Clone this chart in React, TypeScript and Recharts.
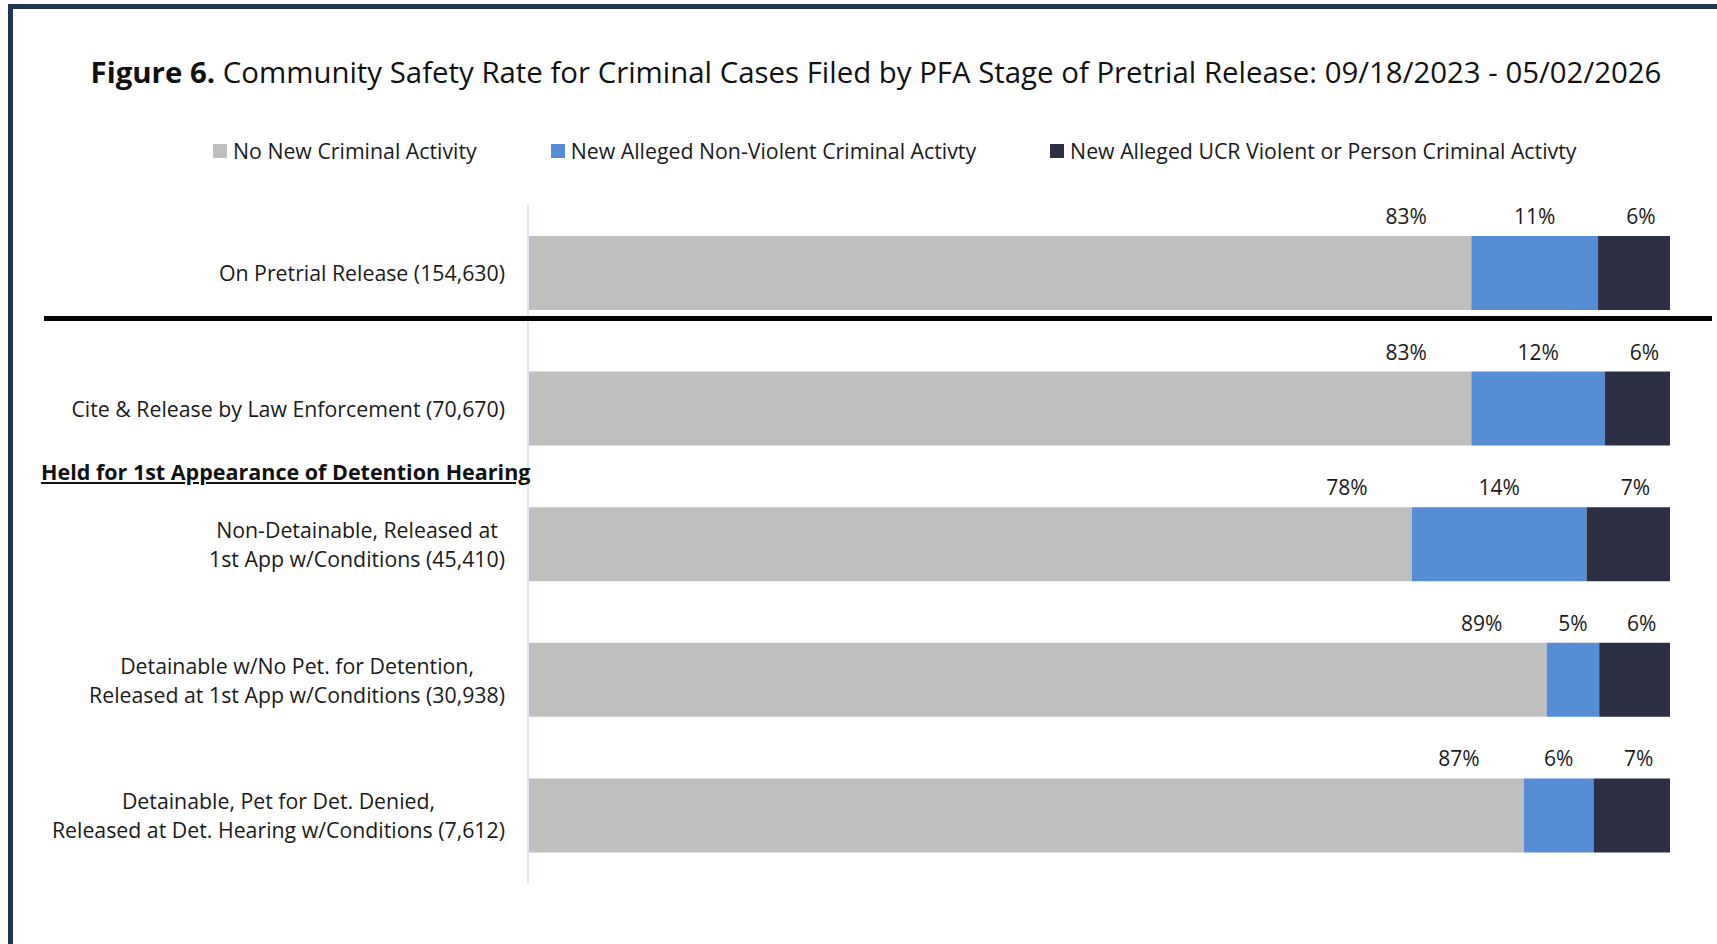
import React from 'react';
import { BarChart, Bar, XAxis, YAxis, LabelList } from 'recharts';

const categories = [
  'On Pretrial Release (154,630)',
  'Cite & Release by Law Enforcement (70,670)',
  'Non-Detainable, Released at\n1st App w/Conditions (45,410)',
  'Detainable w/No Pet. for Detention,\nReleased at 1st App w/Conditions (30,938)',
  'Detainable, Pet for Det. Denied,\nReleased at Det. Hearing w/Conditions (7,612)',
];

// bar lengths as drawn (share of the bar, %)
const noNewActivity = [82.6, 82.6, 77.4, 89.2, 87.2];
const nonViolent = [11.1, 11.7, 15.3, 4.6, 6.1];
const violent = [6.3, 5.7, 7.3, 6.2, 6.7];

// printed percentages
const noNewLabels = [83, 83, 78, 89, 87];
const nonViolentLabels = [11, 12, 14, 5, 6];
const violentLabels = [6, 6, 7, 6, 7];

const seriesNames = [
  'No New Criminal Activity',
  'New Alleged Non-Violent Criminal Activty',
  'New Alleged UCR Violent or Person Criminal Activty',
];
const colors = ['#bfbfbf', '#558ed5', '#2d2f45'];

const FONT = "'Open Sans', 'Noto Sans', sans-serif";
const TICK_SIZE = 21.3;

const chartData = categories.map((name, i) => ({
  name,
  none: noNewActivity[i],
  nonViolent: nonViolent[i],
  violent: violent[i],
  noneLabel: noNewLabels[i],
  nonViolentLabel: nonViolentLabels[i],
  violentLabel: violentLabels[i],
}));

let measureCtx: CanvasRenderingContext2D | null = null;
const measure = (text: string, font: string) => {
  if (!measureCtx) measureCtx = document.createElement('canvas').getContext('2d');
  if (!measureCtx) return text.length * 10;
  measureCtx.font = font;
  return measureCtx.measureText(text).width;
};

const CategoryTick = ({ x, y, payload }: any) => {
  const lines = String(payload.value).split('\n');
  const widest = Math.max(...lines.map((l) => measure(l, `${TICK_SIZE}px ${FONT}`)));
  const cx = x - widest / 2;
  const lineH = 29;
  const startY = y - ((lines.length - 1) * lineH) / 2;
  return (
    <g>
      {lines.map((l, i) => (
        <text key={i} x={cx} y={startY + i * lineH} textAnchor="middle" dominantBaseline="central"
          fontSize={TICK_SIZE} fontFamily={FONT} fill="#1a1a1a">
          {l}
        </text>
      ))}
    </g>
  );
};

const makeLabel = (align: 'end' | 'center', shift: number) => (props: any) => {
  const { x, y, width, value } = props;
  const lx = align === 'end' ? x + width - shift : x + width / 2 + shift;
  return (
    <text x={lx} y={y - 20} textAnchor="middle" dominantBaseline="central"
      fontSize={21} fontFamily={FONT} fill="#1a1a1a">
      {`${value}%`}
    </text>
  );
};

const App: React.FC = () => {
  return (
    <div style={{ position: 'absolute', left: 0, top: 0, width: 1717, height: 944, background: '#fff', overflow: 'hidden', fontFamily: FONT }}>
      {/* frame */}
      <div style={{ position: 'absolute', left: 8, top: 4, right: 0, height: 5, background: '#1f3552' }} />
      <div style={{ position: 'absolute', left: 8, top: 4, width: 5, bottom: 0, background: '#1f3552' }} />

      <div style={{ position: 'absolute', left: 0, top: 52, width: 1752, textAlign: 'center', fontSize: 29.4, color: '#111', whiteSpace: 'nowrap' }}>
        <b>Figure 6.</b> Community Safety Rate for Criminal Cases Filed by PFA Stage of Pretrial Release: 09/18/2023 - 05/02/2026
      </div>

      <div style={{ position: 'absolute', left: 213, top: 136, display: 'flex', gap: 74, fontSize: 21.3, color: '#1a1a1a', whiteSpace: 'nowrap' }}>
        {seriesNames.map((n, i) => (
          <div key={n} style={{ display: 'flex', alignItems: 'center', gap: 6 }}>
            <span style={{ width: 14, height: 14, background: colors[i], display: 'inline-block' }} />
            <span>{n}</span>
          </div>
        ))}
      </div>

      <div style={{ position: 'absolute', left: 0, top: 0 }}>
        <BarChart width={1717} height={944} data={chartData} layout="vertical" barSize={74}
          margin={{ top: 205, right: 47, bottom: 61, left: 0 }}>
          <XAxis type="number" domain={[0, 100]} hide />
          <YAxis type="category" dataKey="name" width={528} tickLine={false} tickSize={0} tickMargin={23}
            axisLine={{ stroke: '#dce8f6', strokeWidth: 2 }} tick={<CategoryTick />} interval={0} />
          <Bar dataKey="none" stackId="a" fill={colors[0]} isAnimationActive={false}>
            <LabelList dataKey="noneLabel" content={makeLabel('end', 65)} />
          </Bar>
          <Bar dataKey="nonViolent" stackId="a" fill={colors[1]} isAnimationActive={false}>
            <LabelList dataKey="nonViolentLabel" content={makeLabel('center', 0)} />
          </Bar>
          <Bar dataKey="violent" stackId="a" fill={colors[2]} isAnimationActive={false}>
            <LabelList dataKey="violentLabel" content={makeLabel('center', 7)} />
          </Bar>
        </BarChart>
      </div>

      <div style={{ position: 'absolute', left: 44, top: 316, width: 1668, height: 5, background: '#000' }} />

      <div style={{ position: 'absolute', left: 41, top: 457, fontSize: 21.5, fontWeight: 700, textDecoration: 'underline', color: '#111', whiteSpace: 'nowrap' }}>
        Held for 1st Appearance of Detention Hearing
      </div>
    </div>
  );
};

export default App;
